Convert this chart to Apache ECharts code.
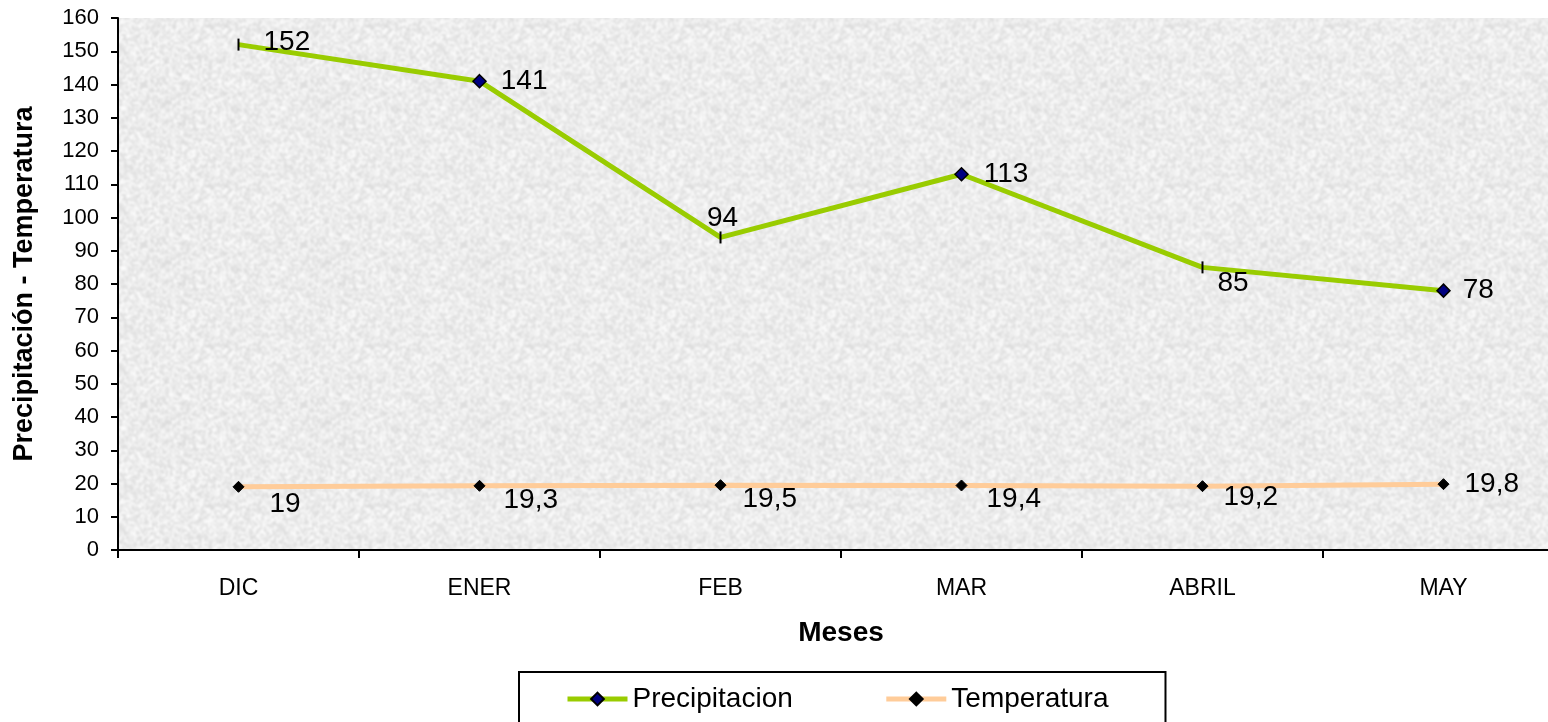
<!DOCTYPE html>
<html>
<head>
<meta charset="utf-8">
<script src="https://cdn.jsdelivr.net/npm/echarts@6/dist/echarts.min.js"></script>
<style>
  html, body { margin: 0; padding: 0; background: #ffffff; }
  #chart { width: 1548px; height: 722px; }
</style>
</head>
<body>
<div id="chart"></div>
<script>
// Months on the category axis
const meses = ['DIC', 'ENER', 'FEB', 'MAR', 'ABRIL', 'MAY'];
// Monthly precipitation
const precipitacion = [152, 141, 94, 113, 85, 78];
// Monthly mean temperature
const temperatura = [19, 19.3, 19.5, 19.4, 19.2, 19.8];
// Value axis ticks
const yMin = 0, yMax = 160, yStep = 10;

const FONT = 'Arial, "Liberation Sans", sans-serif';

// Grainy light-grey paper texture for the plot area (deterministic hash noise)
function paperTexture() {
  const n = 160;
  const raw = document.createElement('canvas');
  raw.width = n; raw.height = n;
  const rc = raw.getContext('2d');
  const hash = (x, y) => {
    let h = (x * 374761393 + y * 668265263) | 0;
    h = (h ^ (h >>> 13)) * 1274126177 | 0;
    h = h ^ (h >>> 16);
    return ((h >>> 0) % 1000) / 1000;
  };
  for (let y = 0; y < n; y += 2) {
    for (let x = 0; x < n; x += 2) {
      const v = Math.round(218 + hash(x, y) * 36);
      rc.fillStyle = 'rgb(' + v + ',' + v + ',' + v + ')';
      rc.fillRect(x, y, 2, 2);
    }
  }
  const out = document.createElement('canvas');
  out.width = n; out.height = n;
  const oc = out.getContext('2d');
  oc.fillStyle = '#eaeaea';
  oc.fillRect(0, 0, n, n);
  oc.filter = 'blur(1.2px)';
  for (let dx = -1; dx <= 1; dx++) {
    for (let dy = -1; dy <= 1; dy++) {
      oc.drawImage(raw, dx * n, dy * n);
    }
  }
  return out;
}

// Per-point marker style and label placement for the precipitation line
const precipMarks = [
  { tick: true,  label: { position: 'right', distance: 24, offset: [0, -2] } },
  { tick: false, label: { position: 'right', distance: 14 } },
  { tick: true,  label: { position: 'top', distance: -1, offset: [2, 0] } },
  { tick: false, label: { position: 'right', distance: 15 } },
  { tick: true,  label: { position: 'right', distance: 14, offset: [0, 16] } },
  { tick: false, label: { position: 'right', distance: 12 } }
];
// Label placement for the temperature line
const tempMarks = [
  { distance: 25, offset: [0, 17] },
  { distance: 18, offset: [0, 14] },
  { distance: 16, offset: [0, 14] },
  { distance: 19, offset: [0, 14] },
  { distance: 15, offset: [0, 11] },
  { distance: 15, offset: [0, 0] }
];

const precipData = precipitacion.map((v, i) => {
  const m = precipMarks[i];
  const item = { value: v, label: m.label };
  if (m.tick) {
    item.symbol = 'rect';
    item.symbolSize = [2, 12];
    item.itemStyle = { color: '#000000', borderWidth: 0 };
  }
  return item;
});

const tempData = temperatura.map((v, i) => ({
  value: v,
  label: { position: 'right', distance: tempMarks[i].distance, offset: tempMarks[i].offset }
}));

const chart = echarts.init(document.getElementById('chart'), null, { renderer: 'canvas' });

chart.setOption({
  animation: false,
  backgroundColor: '#ffffff',
  textStyle: { fontFamily: FONT },
  grid: {
    left: 118, top: 18, width: 1446, bottom: 172,
    outerBoundsMode: 'none',
    containLabel: false,
    show: true,
    borderWidth: 0,
    backgroundColor: { image: paperTexture(), repeat: 'repeat' }
  },
  legend: {
    left: 519, top: 672,
    padding: [13, 57, 30, 46],
    itemGap: 91,
    itemWidth: 60, itemHeight: 16,
    borderColor: '#000000', borderWidth: 2,
    backgroundColor: '#ffffff',
    lineStyle: { width: 5 },
    textStyle: { fontSize: 28, color: '#000000', fontFamily: FONT },
    data: ['Precipitacion', 'Temperatura']
  },
  xAxis: {
    type: 'category',
    data: meses,
    boundaryGap: true,
    name: 'Meses',
    nameLocation: 'middle',
    nameGap: 69,
    nameTextStyle: { fontSize: 28, fontWeight: 'bold', color: '#000000', fontFamily: FONT },
    axisLine: { lineStyle: { color: '#000000', width: 2 } },
    axisTick: { show: true, length: 8, inside: false, alignWithLabel: false, lineStyle: { color: '#000000', width: 2 } },
    axisLabel: { fontSize: 23, color: '#000000', margin: 27, fontFamily: FONT },
    splitLine: { show: false }
  },
  yAxis: {
    type: 'value',
    min: yMin, max: yMax, interval: yStep,
    name: 'Precipitación - Temperatura',
    nameLocation: 'middle',
    nameGap: 80,
    nameRotate: 90,
    nameTextStyle: { fontSize: 27, fontWeight: 'bold', color: '#000000', fontFamily: FONT },
    axisLine: { show: true, lineStyle: { color: '#000000', width: 2 } },
    axisTick: { show: true, length: 7, inside: false, lineStyle: { color: '#000000', width: 2 } },
    axisLabel: { fontSize: 22, color: '#000000', margin: 19, fontFamily: FONT },
    splitLine: { show: false }
  },
  series: [
    {
      name: 'Precipitacion',
      type: 'line',
      data: precipData,
      symbol: 'diamond',
      symbolSize: 13,
      showAllSymbol: true,
      lineStyle: { color: '#99CC00', width: 5 },
      itemStyle: { color: '#000080', borderColor: '#000000', borderWidth: 1.5 },
      label: { show: true, fontSize: 28, color: '#000000', fontFamily: FONT },
      z: 3
    },
    {
      name: 'Temperatura',
      type: 'line',
      data: tempData,
      symbol: 'diamond',
      symbolSize: 11,
      showAllSymbol: true,
      lineStyle: { color: '#FFCC99', width: 5 },
      itemStyle: { color: '#000000', borderColor: '#000000', borderWidth: 1 },
      label: {
        show: true, fontSize: 28, color: '#000000', fontFamily: FONT,
        formatter: p => String(p.value).replace('.', ',')
      },
      z: 3
    }
  ]
});
</script>
</body>
</html>
